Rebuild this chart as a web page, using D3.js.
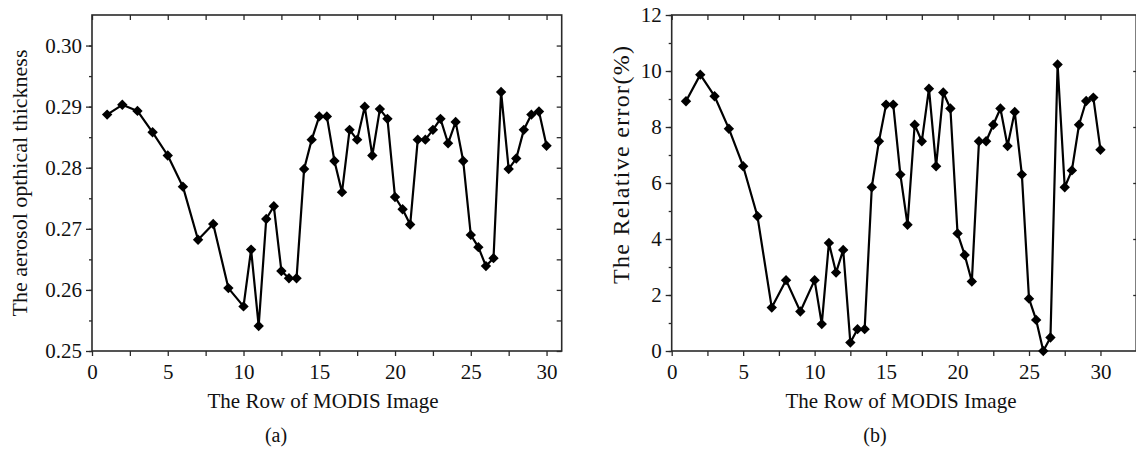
<!DOCTYPE html>
<html><head><meta charset="utf-8">
<script src="https://cdn.jsdelivr.net/npm/d3@7"></script>
<style>
body{margin:0;background:#fff}
svg{display:block;background:#fff}
text{font-family:"Liberation Serif","Times New Roman",serif;fill:#111}
</style>
</head><body>
<svg id="c" width="1136" height="450"></svg>
<script>
// ---- data ----
const rows = [1,2,3,4,5,6,7,8,9,10,10.5,11,11.5,12,12.5,13,13.5,14,14.5,15,15.5,16,16.5,17,17.5,18,18.5,19,19.5,20,20.5,21,21.5,22,22.5,23,23.5,24,24.5,25,25.5,26,26.5,27,27.5,28,28.5,29,29.5,30];
const aot = [0.2887,0.2903,0.2893,0.2858,0.2820,0.2769,0.2682,0.2708,0.2603,0.2573,
             0.2666,0.2541,0.2716,0.2737,0.2631,0.2619,0.2619,0.2798,0.2846,0.2884,
             0.2884,0.2811,0.2760,0.2862,0.2846,0.2900,0.2820,0.2896,0.2880,0.2752,
             0.2732,0.2707,0.2846,0.2846,0.2862,0.2880,0.2840,0.2875,0.2811,0.2690,
             0.2670,0.2639,0.2652,0.2924,0.2798,0.2815,0.2862,0.2887,0.2892,0.2836];
const relErr = [8.92,9.87,9.10,7.94,6.60,4.81,1.55,2.53,1.41,2.53,
                0.96,3.86,2.80,3.61,0.30,0.78,0.78,5.85,7.49,8.80,
                8.80,6.30,4.51,8.08,7.49,9.37,6.60,9.23,8.66,4.20,
                3.43,2.48,7.49,7.49,8.08,8.66,7.32,8.54,6.30,1.87,
                1.11,0.00,0.48,10.23,5.85,6.45,8.08,8.93,9.05,7.19];
const xMajorTicks = [0,5,10,15,20,25,30];
const xAllTicks = [0,2.5,5,7.5,10,12.5,15,17.5,20,22.5,25,27.5,30];
const aotMajorTicks = [0.25,0.26,0.27,0.28,0.29,0.30];
const aotAllTicks = [0.25,0.255,0.26,0.265,0.27,0.275,0.28,0.285,0.29,0.295,0.30];
const errMajorTicks = [0,2,4,6,8,10,12];
const errAllTicks = [0,1,2,3,4,5,6,7,8,9,10,11,12];
const errRightTicks = [2,4,6,8,10];
const xTitle = "The Row of MODIS Image";
const aotTitle = "The aerosol opthical thickness";
const errTitle = "The Relative error(%)";

const svg = d3.select("#c");
const AX = "#2a2a2a";
const FONT = '"Liberation Serif","Times New Roman",serif';

function panel(o){
  const g = svg.append("g");
  const x = d3.scaleLinear().domain(o.xDomain).range([o.left, o.right]);
  const y = d3.scaleLinear().domain(o.yDomain).range([o.bottom, o.top]);

  const style = sel => {
    sel.attr("font-family", FONT);
    sel.select(".domain").remove();
    sel.selectAll(".tick line").attr("stroke", AX).attr("stroke-width", 1.3);
    sel.selectAll(".tick text").attr("font-size", 21).attr("fill","#111");
  };
  // bottom
  g.append("g").attr("transform",`translate(0,${o.bottom})`)
    .call(d3.axisBottom(x).tickValues(xAllTicks).tickSize(5).tickPadding(8)
      .tickFormat(d => xMajorTicks.includes(d) ? d3.format("d")(d) : ""))
    .call(style);
  // top (inward)
  g.append("g").attr("transform",`translate(0,${o.top})`)
    .call(d3.axisTop(x).tickValues(xAllTicks).tickSize(-5).tickFormat(""))
    .call(style);
  // left minor + major
  g.append("g").attr("transform",`translate(${o.left},0)`)
    .call(d3.axisLeft(y).tickValues(o.yAll).tickSize(3).tickFormat(""))
    .call(style);
  g.append("g").attr("transform",`translate(${o.left},0)`)
    .call(d3.axisLeft(y).tickValues(o.yMajor).tickSize(6).tickPadding(4).tickFormat(o.fmt))
    .call(style);
  // right (inward)
  g.append("g").attr("transform",`translate(${o.right},0)`)
    .call(d3.axisRight(y).tickValues(o.yRight).tickSize(-o.rightTick).tickFormat(""))
    .call(style);
  // frame
  g.append("rect").attr("x",o.left).attr("y",o.top)
    .attr("width",o.right-o.left).attr("height",o.bottom-o.top)
    .attr("fill","none").attr("stroke",AX).attr("stroke-width",1.6);

  const pts = o.xs.map((d,i)=>[d,o.ys[i]]);
  g.append("path").datum(pts)
    .attr("fill","none").attr("stroke","#000").attr("stroke-width",2.2)
    .attr("stroke-linejoin","round")
    .attr("d", d3.line().x(d=>x(d[0])).y(d=>y(d[1])));
  const sym = d3.symbol(d3.symbolSquare, 54)();
  g.selectAll("path.m").data(pts).join("path").attr("class","m")
    .attr("d", sym).attr("fill","#000")
    .attr("transform", d=>`translate(${x(d[0])},${y(d[1])}) rotate(45)`);

  // titles
  g.append("text").attr("x",o.xTitleX).attr("y",408).attr("text-anchor","middle")
    .attr("font-size",21).text(xTitle);
  const yt = g.append("text").attr("transform",`translate(${o.yTitleX},${o.yTitleY}) rotate(-90)`)
    .attr("text-anchor","middle").attr("font-size",o.yTitleSize).text(o.yTitle);
  if (o.yTitleLen) yt.attr("textLength", o.yTitleLen).attr("lengthAdjust","spacing");
  g.append("text").attr("x",o.capX).attr("y",442).attr("text-anchor","middle")
    .attr("font-size",20).text(o.cap);
}

panel({left:92, right:561.7, top:15, bottom:351,
  xDomain:[0,31], yDomain:[0.25,0.305],
  yMajor:aotMajorTicks, yAll:aotAllTicks, yRight:aotAllTicks, rightTick:5,
  fmt:d3.format(".2f"), xs:rows, ys:aot,
  xTitleX:323, yTitle:aotTitle, yTitleSize:22, yTitleX:27, yTitleY:183, cap:"(a)", capX:276});

panel({left:671.7, right:1136.2, top:15, bottom:351,
  xDomain:[0,32.5], yDomain:[0,12],
  yMajor:errMajorTicks, yAll:errAllTicks, yRight:errRightTicks, rightTick:3,
  fmt:d3.format("d"), xs:rows, ys:relErr,
  xTitleX:901, yTitle:errTitle, yTitleSize:24, yTitleX:629, yTitleY:165, yTitleLen:238, cap:"(b)", capX:875});
</script>
</body></html>
